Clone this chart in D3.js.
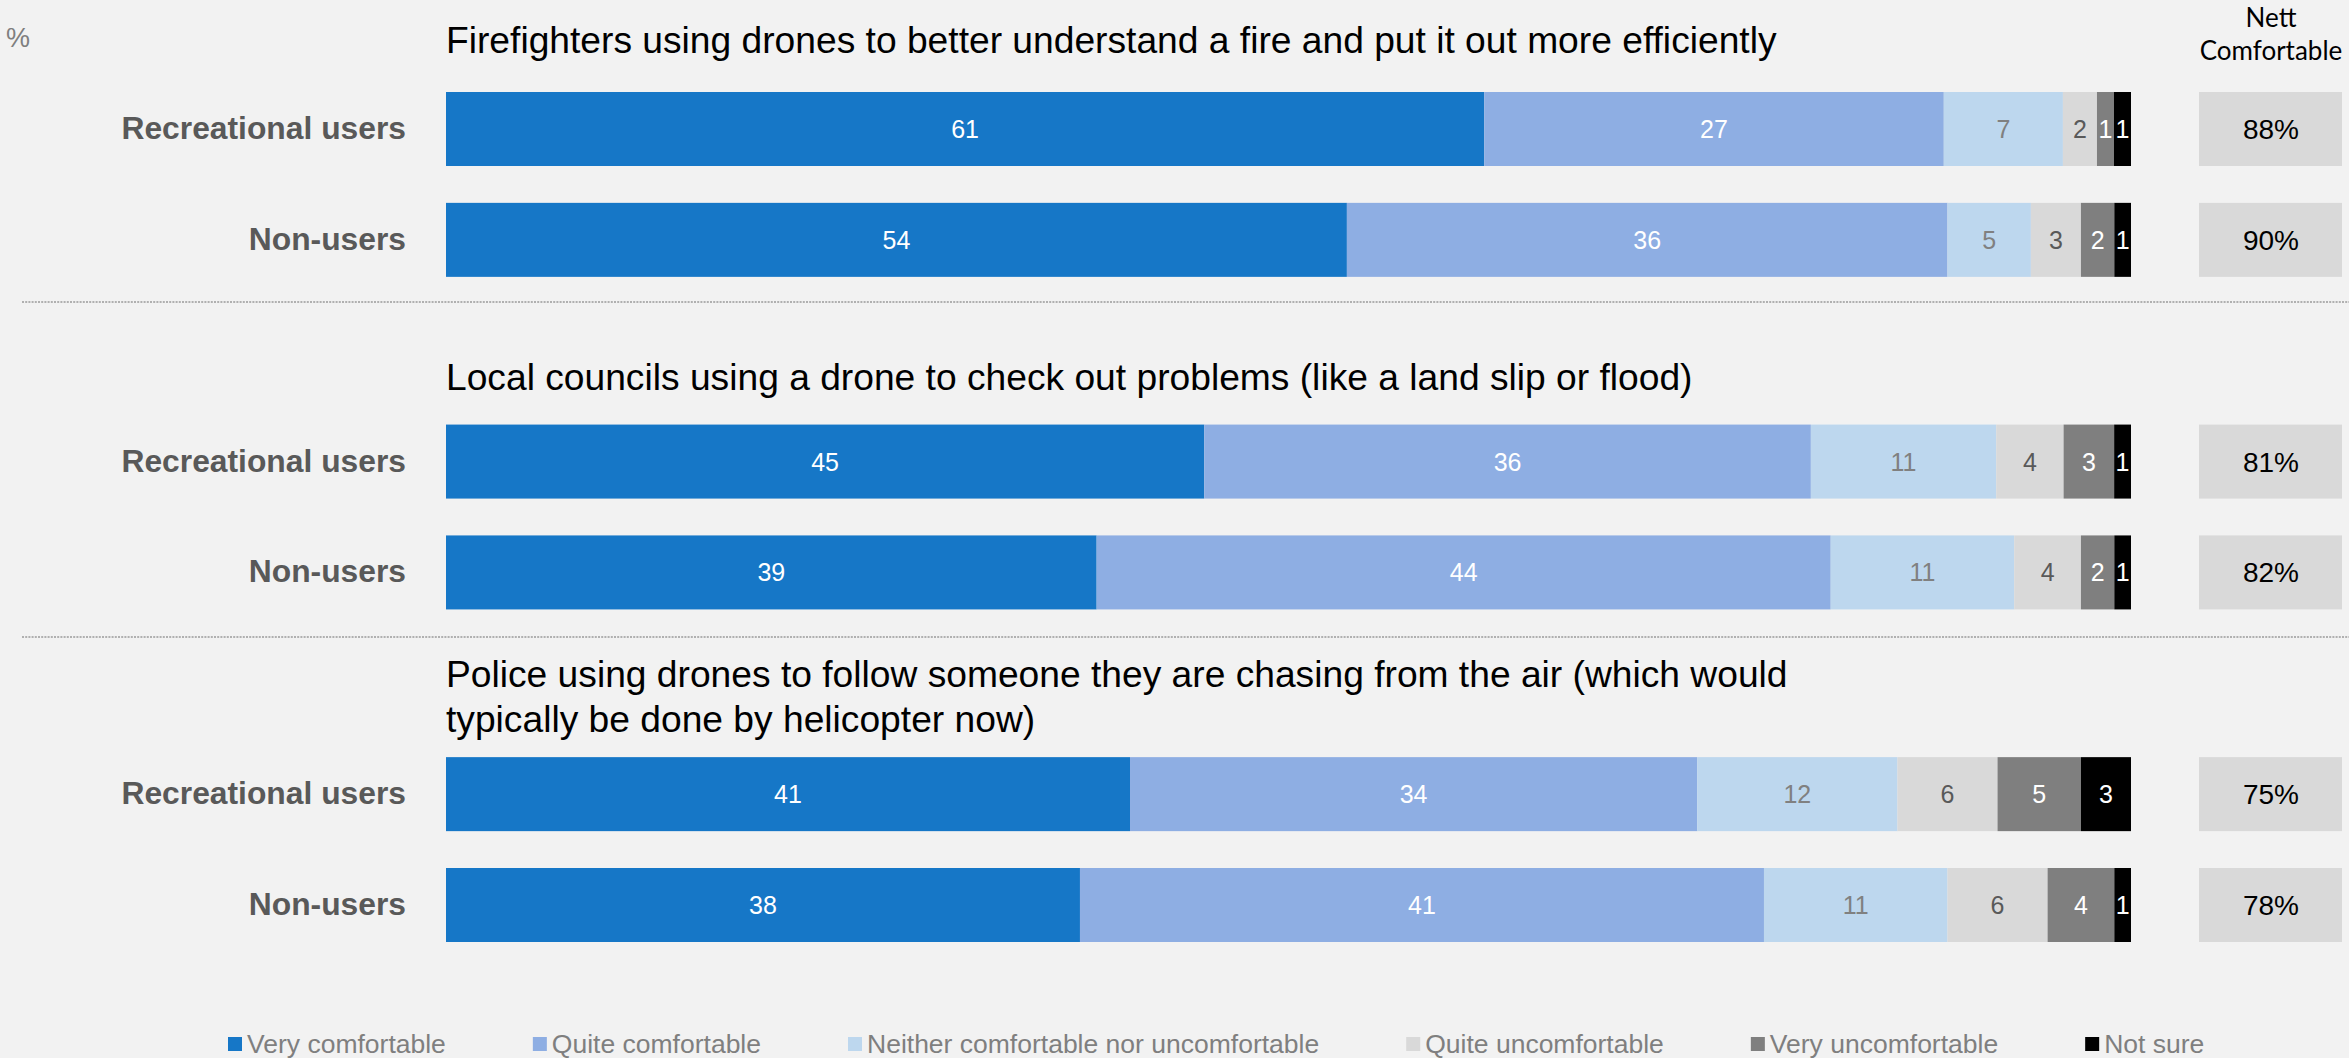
<!DOCTYPE html>
<html>
<head>
<meta charset="utf-8">
<script src="https://cdn.jsdelivr.net/npm/d3@7"></script>
<style>
  body { margin: 0; background: #f2f2f2; }
  svg { display: block; font-family: 'Liberation Sans', Arial, sans-serif; }
</style>
</head>
<body>
<svg></svg>
<script>
// answer categories (legend order = stacking order)
let categories = ['Very comfortable', 'Quite comfortable', 'Neither comfortable nor uncomfortable',
                  'Quite uncomfortable', 'Very uncomfortable', 'Not sure']
let colours = ['#1677c7', '#8eaee3', '#bdd7ee', '#d9d9d9', '#7f7f7f', '#000000']
let labelColours = ['#ffffff', '#ffffff', '#808080', '#595959', '#ffffff', '#ffffff']

let questions = [
    ['Firefighters using drones to better understand a fire and put it out more efficiently'],
    ['Local councils using a drone to check out problems (like a land slip or flood)'],
    ['Police using drones to follow someone they are chasing from the air (which would',
     'typically be done by helicopter now)']
]
let groups = ['Recreational users', 'Non-users']

// one value per row: Q1 rec, Q1 non, Q2 rec, Q2 non, Q3 rec, Q3 non
let veryComfortable    = [61, 54, 45, 39, 41, 38]
let quiteComfortable   = [27, 36, 36, 44, 34, 41]
let neither            = [7, 5, 11, 11, 12, 11]
let quiteUncomfortable = [2, 3, 4, 4, 6, 6]
let veryUncomfortable  = [1, 2, 3, 2, 5, 4]
let notSure            = [1, 1, 1, 1, 3, 1]
let nettComfortable    = [88, 90, 81, 82, 75, 78]

let width = 2349
let height = 1058
let barLeft = 446
let barRight = 2131
let barHeight = 74
let titleGap = [39, 35, 25]

let svg = d3.select('svg').attr('width', width).attr('height', height)

let series = [veryComfortable, quiteComfortable, neither, quiteUncomfortable, veryUncomfortable, notSure]

let rows = d3.range(6).map((r) => {
    let vals = series.map((s) => s[r])
    return {
        index: r,
        question: Math.floor(r / 2),
        group: groups[r % 2],
        slot: Math.floor(r / 2) * 3 + (r % 2),
        values: vals,
        total: d3.sum(vals),
        nett: nettComfortable[r]
    }
})

// each question takes three slots: two bars and a gap for the next title
let yScale = d3.scaleLinear().domain([0, 7]).range([92, 868])

// "%" label
svg.append('text')
    .attr('x', 6).attr('y', 47)
    .attr('font-size', 27).attr('fill', '#7f7f7f')
    .text('%')

// Nett Comfortable header
let header = svg.append('text')
    .attr('x', 2271).attr('text-anchor', 'middle')
    .attr('font-family', 'Lato, sans-serif').attr('font-size', 26).attr('fill', '#000')
header.append('tspan').attr('x', 2271).attr('y', 27).text('Nett')
header.append('tspan').attr('x', 2271).attr('y', 60).text('Comfortable')

// question titles
questions.forEach((lines, q) => {
    let base = yScale(q * 3) - titleGap[q]
    lines.forEach((line, i) => {
        svg.append('text')
            .attr('x', barLeft)
            .attr('y', base - (lines.length - 1 - i) * 45)
            .attr('font-size', 37.2).attr('fill', '#000')
            .text(line)
    })
})

// dotted separators
;[302, 637].forEach((y) => {
    svg.append('line')
        .attr('x1', 22).attr('x2', width)
        .attr('y1', y).attr('y2', y)
        .attr('stroke', '#b0b0b0').attr('stroke-width', 2)
        .attr('stroke-dasharray', '2 1.2')
})

// rows
let rowG = svg.selectAll('g.row')
    .data(rows)
    .enter()
    .append('g')
    .attr('class', 'row')
    .attr('transform', (d) => 'translate(0,' + yScale(d.slot) + ')')

rowG.append('text')
    .attr('x', 406)
    .attr('y', barHeight / 2 + 10)
    .attr('text-anchor', 'end')
    .attr('font-size', 31.8).attr('font-weight', 'bold').attr('fill', '#595959')
    .text((d) => d.group)

rowG.each(function (d) {
    let g = d3.select(this)
    let xScale = d3.scaleLinear().domain([0, d.total]).range([barLeft, barRight])
    let stacked = []
    let acc = 0
    d.values.forEach((v, i) => {
        stacked.push({ v: v, i: i, x0: acc, x1: acc + v })
        acc += v
    })
    let seg = g.selectAll('g.seg').data(stacked).enter().append('g').attr('class', 'seg')
    seg.append('rect')
        .attr('x', (s) => xScale(s.x0))
        .attr('width', (s) => xScale(s.x1) - xScale(s.x0))
        .attr('y', 0)
        .attr('height', barHeight)
        .attr('fill', (s) => colours[s.i])
    seg.append('text')
        .attr('x', (s) => (xScale(s.x0) + xScale(s.x1)) / 2)
        .attr('y', barHeight / 2 + 9)
        .attr('text-anchor', 'middle')
        .attr('font-size', 25)
        .attr('fill', (s) => labelColours[s.i])
        .text((s) => s.v)

    // nett box
    g.append('rect')
        .attr('x', 2199).attr('width', 143)
        .attr('y', 0).attr('height', barHeight)
        .attr('fill', '#d9d9d9')
    g.append('text')
        .attr('x', 2271).attr('y', barHeight / 2 + 10)
        .attr('text-anchor', 'middle')
        .attr('font-size', 28).attr('fill', '#000')
        .text(d.nett + '%')
})

// legend, laid out by text width
let legend = svg.append('g').attr('transform', 'translate(0,1037)')
let lx = 228
categories.forEach((c, i) => {
    let item = legend.append('g').attr('transform', 'translate(' + lx + ',0)')
    item.append('rect').attr('width', 14).attr('height', 14).attr('fill', colours[i])
    let t = item.append('text')
        .attr('x', 19).attr('y', 16)
        .attr('font-size', 26.5).attr('fill', '#7f7f7f')
        .text(c)
    lx += 19 + t.node().getComputedTextLength() + 87
})
</script>
</body>
</html>
